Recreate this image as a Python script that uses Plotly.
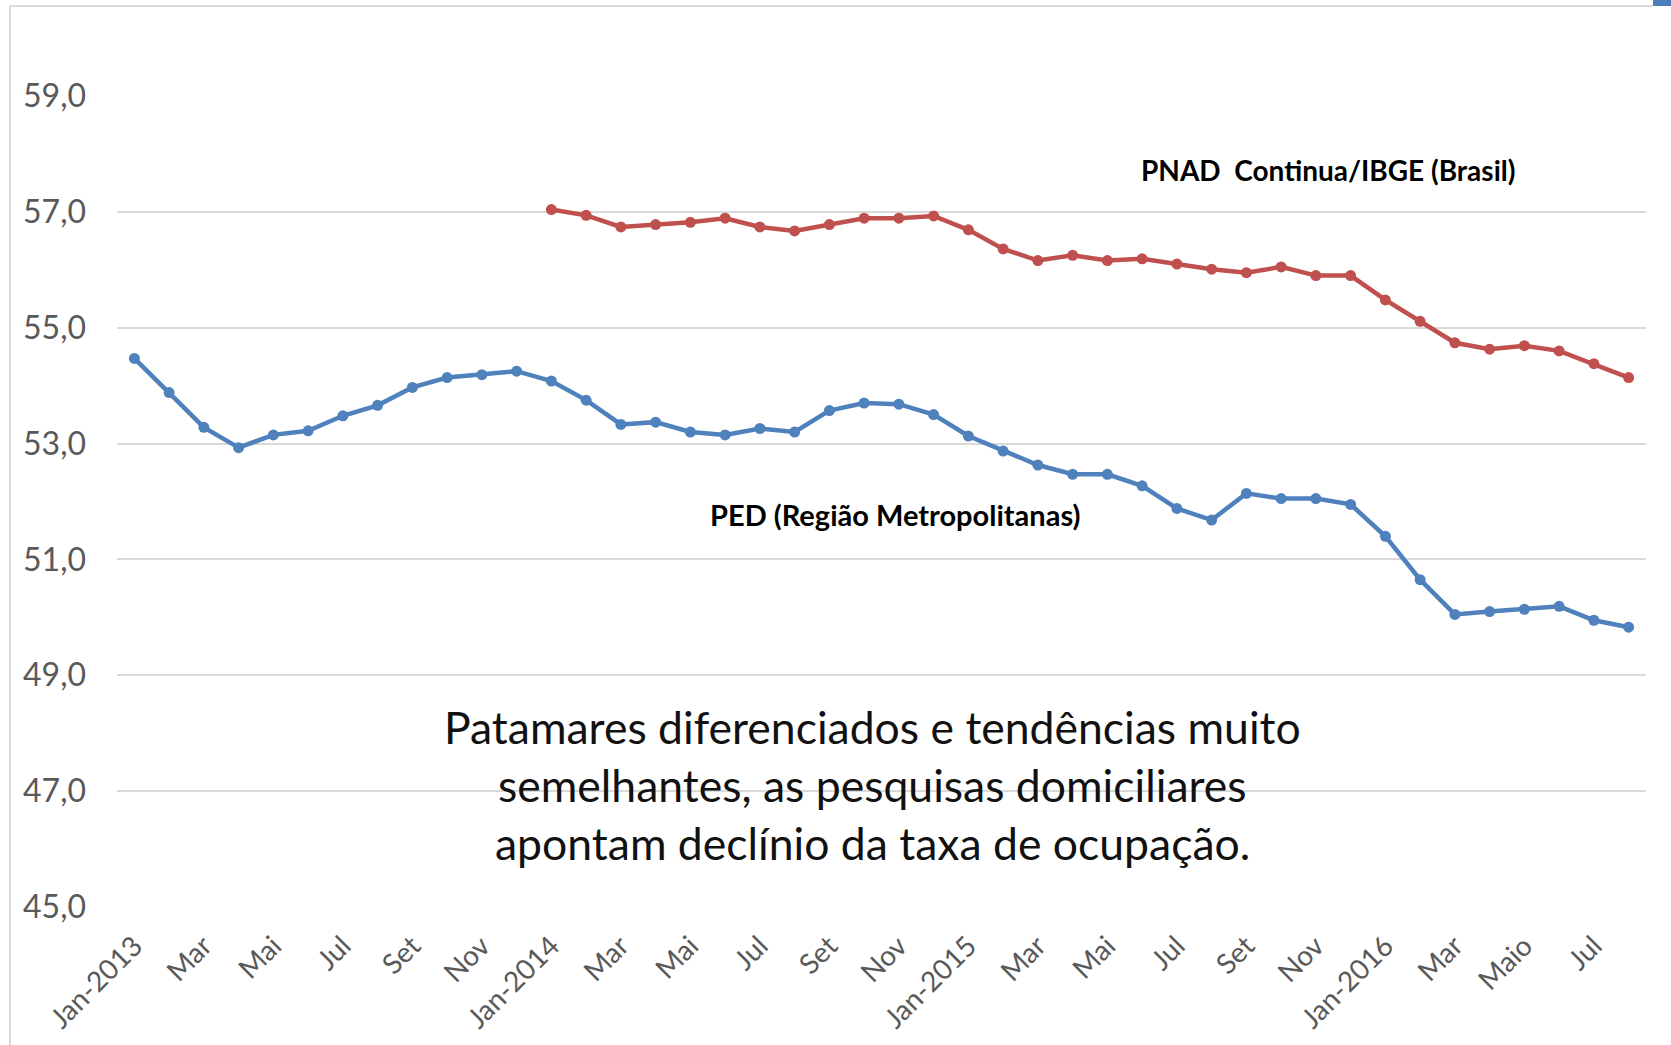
import plotly.graph_objects as go

# ---------------- data ----------------
months = ["Jan-2013", "Fev-2013", "Mar-2013", "Abr-2013", "Mai-2013", "Jun-2013",
          "Jul-2013", "Ago-2013", "Set-2013", "Out-2013", "Nov-2013", "Dez-2013",
          "Jan-2014", "Fev-2014", "Mar-2014", "Abr-2014", "Mai-2014", "Jun-2014",
          "Jul-2014", "Ago-2014", "Set-2014", "Out-2014", "Nov-2014", "Dez-2014",
          "Jan-2015", "Fev-2015", "Mar-2015", "Abr-2015", "Mai-2015", "Jun-2015",
          "Jul-2015", "Ago-2015", "Set-2015", "Out-2015", "Nov-2015", "Dez-2015",
          "Jan-2016", "Fev-2016", "Mar-2016", "Abr-2016", "Mai-2016", "Jun-2016",
          "Jul-2016", "Ago-2016"]

ped = [54.47, 53.88, 53.28, 52.93, 53.15, 53.22, 53.48, 53.66, 53.97, 54.14, 54.19, 54.25,
       54.08, 53.75, 53.33, 53.37, 53.20, 53.15, 53.26, 53.20, 53.57, 53.70, 53.68, 53.50,
       53.13, 52.87, 52.63, 52.47, 52.47, 52.27, 51.88, 51.68, 52.14, 52.05, 52.05, 51.95,
       51.40, 50.65, 50.05, 50.10, 50.14, 50.19, 49.95, 49.83]

pnad = [None] * 12 + [
       57.04, 56.94, 56.74, 56.78, 56.82, 56.89, 56.74, 56.67, 56.78, 56.89, 56.89, 56.93,
       56.69, 56.36, 56.16, 56.25, 56.16, 56.19, 56.10, 56.01, 55.95, 56.05, 55.90, 55.90,
       55.48, 55.11, 54.74, 54.63, 54.69, 54.60, 54.38, 54.14]

tick_months = ["Jan-2013", "Mar-2013", "Mai-2013", "Jul-2013", "Set-2013", "Nov-2013",
               "Jan-2014", "Mar-2014", "Mai-2014", "Jul-2014", "Set-2014", "Nov-2014",
               "Jan-2015", "Mar-2015", "Mai-2015", "Jul-2015", "Set-2015", "Nov-2015",
               "Jan-2016", "Mar-2016", "Mai-2016", "Jul-2016"]
tick_text = ["Jan-2013", "Mar", "Mai", "Jul", "Set", "Nov",
             "Jan-2014", "Mar", "Mai", "Jul", "Set", "Nov",
             "Jan-2015", "Mar", "Mai", "Jul", "Set", "Nov",
             "Jan-2016", "Mar", "Maio", "Jul"]

y_ticks = [45, 47, 49, 51, 53, 55, 57, 59]
y_tick_text = ["45,0", "47,0", "49,0", "51,0", "53,0", "55,0", "57,0", "59,0"]

label_pnad = "PNAD  Continua/IBGE (Brasil)"
label_ped = "PED (Região Metropolitanas)"
note_lines = ["Patamares diferenciados e tendências muito",
              "semelhantes, as pesquisas domiciliares",
              "apontam declínio da taxa de ocupação."]

# ---------------- styling / geometry ----------------
W, H = 1671, 1045
L, R, T, B = 117, 25, 96, 138
FONT = "Lato"
BLUE = "#4F81BD"
RED = "#C0504D"
GRID = "#D9D9D9"
TICKC = "#595959"

pw = W - L - R
ph = H - T - B

def px2paper_x(px):
    return (px - L) / pw

def px2paper_y(py):
    return (H - B - py) / ph

fig = go.Figure()
fig.add_trace(go.Scatter(x=months, y=ped, mode="lines+markers",
                         line=dict(color=BLUE, width=4.5),
                         marker=dict(color=BLUE, size=11),
                         name=label_ped))
fig.add_trace(go.Scatter(x=months, y=pnad, mode="lines+markers",
                         line=dict(color=RED, width=4.5),
                         marker=dict(color=RED, size=11),
                         name=label_pnad))

annotations = [
    dict(x=34.35, y=57.73, xref="x", yref="y", text="<b>" + label_pnad + "</b>",
         showarrow=False, font=dict(family=FONT, size=28, color="#000000")),
    dict(x=21.9, y=51.77, xref="x", yref="y", text="<b>" + label_ped + "</b>",
         showarrow=False, font=dict(family=FONT, size=29, color="#000000")),
]
note_y = [48.12, 47.11, 46.12]
for line, yy in zip(note_lines, note_y):
    annotations.append(dict(x=21.24, y=yy, xref="x", yref="y", text=line,
                            showarrow=False,
                            font=dict(family=FONT, size=44.5, color="#111111")))

shapes = [
    # chart frame (left & top)
    dict(type="line", xref="paper", yref="paper",
         x0=px2paper_x(10), x1=px2paper_x(10), y0=px2paper_y(6), y1=px2paper_y(H + 5),
         line=dict(color=GRID, width=2)),
    dict(type="line", xref="paper", yref="paper",
         x0=px2paper_x(10), x1=px2paper_x(1653), y0=px2paper_y(6), y1=px2paper_y(6),
         line=dict(color=GRID, width=2)),
    dict(type="rect", xref="paper", yref="paper",
         x0=px2paper_x(1653), x1=px2paper_x(W + 2), y0=px2paper_y(6), y1=px2paper_y(-2),
         fillcolor="#4A7EBB", line=dict(width=0)),
]

fig.update_layout(
    width=W, height=H,
    margin=dict(l=L, r=R, t=T, b=B, pad=0),
    paper_bgcolor="white", plot_bgcolor="white",
    showlegend=False,
    annotations=annotations,
    shapes=shapes,
    font=dict(family=FONT, color=TICKC),
)
fig.update_xaxes(type="category", range=[-0.5, 43.5],
                 tickmode="array", tickvals=tick_months, ticktext=tick_text,
                 tickangle=-45, tickfont=dict(family=FONT, size=28, color=TICKC),
                 showgrid=False, showline=False, zeroline=False, ticks="",
                 ticklabelstandoff=16)
fig.update_yaxes(range=[45, 59], tickmode="array", tickvals=y_ticks, ticktext=y_tick_text,
                 tickfont=dict(family=FONT, size=32, color=TICKC),
                 showgrid=True, gridcolor=GRID, gridwidth=1.5,
                 showline=False, zeroline=False, ticks="",
                 ticklabelstandoff=30)

fig.write_html("out.html",
               config={"displayModeBar": False},
               post_script="document.body.style.margin='0';document.body.style.overflow='hidden';")
